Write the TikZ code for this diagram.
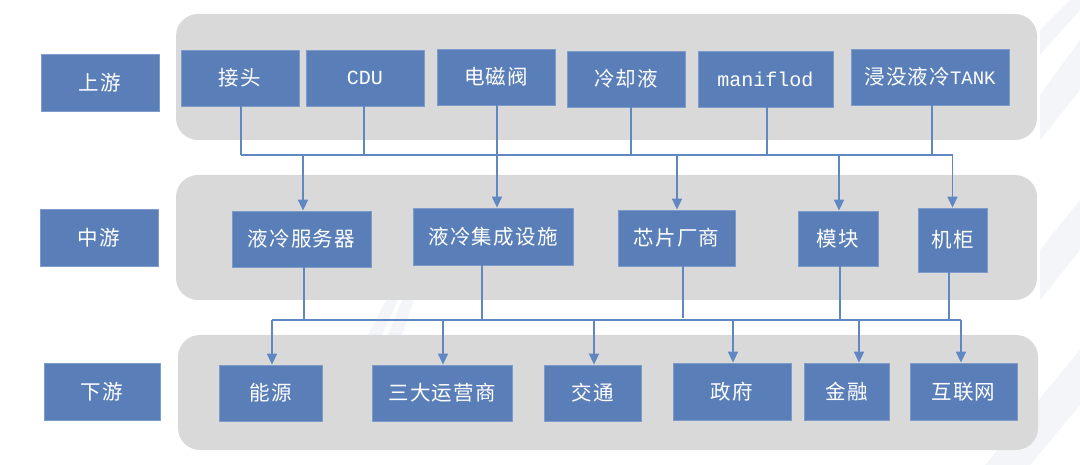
\documentclass[tikz,border=0pt]{standalone}
\usepackage{fontspec}
\newfontfamily\cjk[LetterSpace=6]{Noto Sans CJK SC}
\newfontfamily\mono{Liberation Mono}
\usetikzlibrary{arrows.meta}
\definecolor{boxblue}{HTML}{5A7FB8}
\definecolor{boxedge}{HTML}{7E9CCB}
\definecolor{linkblue}{HTML}{5F87C2}
\definecolor{panelgrey}{HTML}{D9D9D9}
\definecolor{stripe}{HTML}{F4F5F9}
\tikzset{
  box/.style={rectangle, fill=boxblue, draw=boxedge, line width=0.8pt, text=white,
    font=\fontsize{20.5}{24}\selectfont\cjk, inner sep=0pt, anchor=center},
  latin/.style={font=\fontsize{20}{24}\selectfont\mono},
  panel/.style={fill=panelgrey, draw=none, rounded corners=22pt},
  link/.style={draw=linkblue, line width=1.5pt},
  arr/.style={link, -{Triangle[width=10pt,length=11pt]}},
}
\begin{document}
\begin{tikzpicture}[x=1pt,y=-1pt]
\useasboundingbox (0,0) rectangle (1080,465);
% faint background stripes
\fill[stripe] (985,465) -- (1030,465) -- (1080,405) -- (1080,350) -- cycle;
\fill[stripe] (1040,140) -- (1080,90) -- (1080,40) -- (1040,95) -- cycle;
\fill[stripe] (1040,30) -- (1080,-10) -- (1080,10) -- (1040,55) -- cycle;
\fill[stripe] (1040,300) -- (1080,250) -- (1080,200) -- (1040,250) -- cycle;
\fill[stripe] (368,335) -- (382,335) -- (398,300) -- (386,300) -- cycle;
\fill[stripe] (388,335) -- (402,335) -- (414,300) -- (402,300) -- cycle;
% panels
\path[panel] (176,14) rectangle (1037,140);
\path[panel] (176,175) rectangle (1037,300);
\path[panel] (178,335) rectangle (1038,450);
% stage labels
\node[box, minimum width=118pt, minimum height=57pt] (L1) at (100,82.5) {上游};
\node[box, minimum width=118pt, minimum height=57pt] (L2) at (99,237.5) {中游};
\node[box, minimum width=116pt, minimum height=57pt] (L3) at (102,391.5) {下游};
% upstream
\node[box, minimum width=118pt, minimum height=56pt] (a1) at (240,78) {接头};
\node[box, latin, minimum width=118pt, minimum height=56pt] (a2) at (365,78) {CDU};
\node[box, minimum width=118pt, minimum height=56pt] (a3) at (496,77) {电磁阀};
\node[box, minimum width=118pt, minimum height=56pt] (a4) at (626,79) {冷却液};
\node[box, latin, minimum width=135pt, minimum height=56pt] (a5) at (765.5,79) {maniflod};
\node[box, minimum width=158pt, minimum height=56pt] (a6) at (930,77) {浸没液冷{\mono\fontsize{19}{24}\selectfont TANK}};
% midstream
\node[box, minimum width=139pt, minimum height=56pt] (b1) at (301.5,239) {液冷服务器};
\node[box, minimum width=160pt, minimum height=57pt] (b2) at (493,236.5) {液冷集成设施};
\node[box, minimum width=117pt, minimum height=56pt] (b3) at (676.5,238) {芯片厂商};
\node[box, minimum width=80pt, minimum height=55pt] (b4) at (838,238.5) {模块};
\node[box, minimum width=69pt, minimum height=64pt] (b5) at (952.5,240) {机柜};
% downstream
\node[box, minimum width=103pt, minimum height=56pt] (c1) at (270.5,393) {能源};
\node[box, minimum width=140pt, minimum height=56pt] (c2) at (442,393) {三大运营商};
\node[box, minimum width=97pt, minimum height=56pt] (c3) at (592.5,393) {交通};
\node[box, minimum width=118pt, minimum height=57pt] (c4) at (732,391.5) {政府};
\node[box, minimum width=85pt, minimum height=57pt] (c5) at (846.5,391.5) {金融};
\node[box, minimum width=107pt, minimum height=57pt] (c6) at (963.5,391.5) {互联网};
% bus coordinates
\coordinate (busU) at (0,155);
\coordinate (busD) at (0,320);
% upstream to bus
\draw[link] ([xshift=1pt]a1.south) -- ([xshift=1pt]a1.south |- busU);
\draw[link] ([xshift=-1pt]a2.south) -- ([xshift=-1pt]a2.south |- busU);
\draw[link] ([xshift=1pt]a3.south) -- ([xshift=1pt]a3.south |- busU);
\draw[link] ([xshift=5pt]a4.south) -- ([xshift=5pt]a4.south |- busU);
\draw[link] ([xshift=1.5pt]a5.south) -- ([xshift=1.5pt]a5.south |- busU);
\draw[link] ([xshift=2pt]a6.south) -- ([xshift=2pt]a6.south |- busU);
\draw[link] ([xshift=1pt]a1.south |- busU) -- ([xshift=0pt]b5.north |- busU);
% bus to midstream
\draw[arr] ([xshift=1.5pt]b1.north |- busU) -- ([xshift=1.5pt]b1.north);
\draw[arr] ([xshift=4pt]b2.north |- busU) -- ([xshift=4pt]b2.north);
\draw[arr] ([xshift=0.5pt]b3.north |- busU) -- ([xshift=0.5pt]b3.north);
\draw[arr] ([xshift=1pt]b4.north |- busU) -- ([xshift=1pt]b4.north);
\draw[arr] (b5.north |- busU) -- (b5.north);
% midstream to bus
\draw[link] ([xshift=2.5pt]b1.south) -- ([xshift=2.5pt]b1.south |- busD);
\draw[link] ([xshift=-11pt]b2.south) -- ([xshift=-11pt]b2.south |- busD);
\draw[link] ([xshift=6.5pt]b3.south) -- ([xshift=6.5pt,yshift=2pt]b3.south |- busD);
\draw[link] ([xshift=2pt]b4.south) -- ([xshift=2pt]b4.south |- busD);
\draw[link] ([xshift=-3.5pt]b5.south) -- ([xshift=-3.5pt]b5.south |- busD);
\draw[link] ([xshift=1.5pt]c1.north |- busD) -- ([xshift=-2.5pt]c6.north |- busD);
% bus to downstream
\draw[arr] ([xshift=1.5pt]c1.north |- busD) -- ([xshift=1.5pt]c1.north);
\draw[arr] ([xshift=1pt]c2.north |- busD) -- ([xshift=1pt]c2.north);
\draw[arr] ([xshift=1.5pt]c3.north |- busD) -- ([xshift=1.5pt]c3.north);
\draw[arr] ([xshift=1pt]c4.north |- busD) -- ([xshift=1pt]c4.north);
\draw[arr] ([xshift=12.5pt]c5.north |- busD) -- ([xshift=12.5pt]c5.north);
\draw[arr] ([xshift=-2.5pt]c6.north |- busD) -- ([xshift=-2.5pt]c6.north);
\end{tikzpicture}
\end{document}
